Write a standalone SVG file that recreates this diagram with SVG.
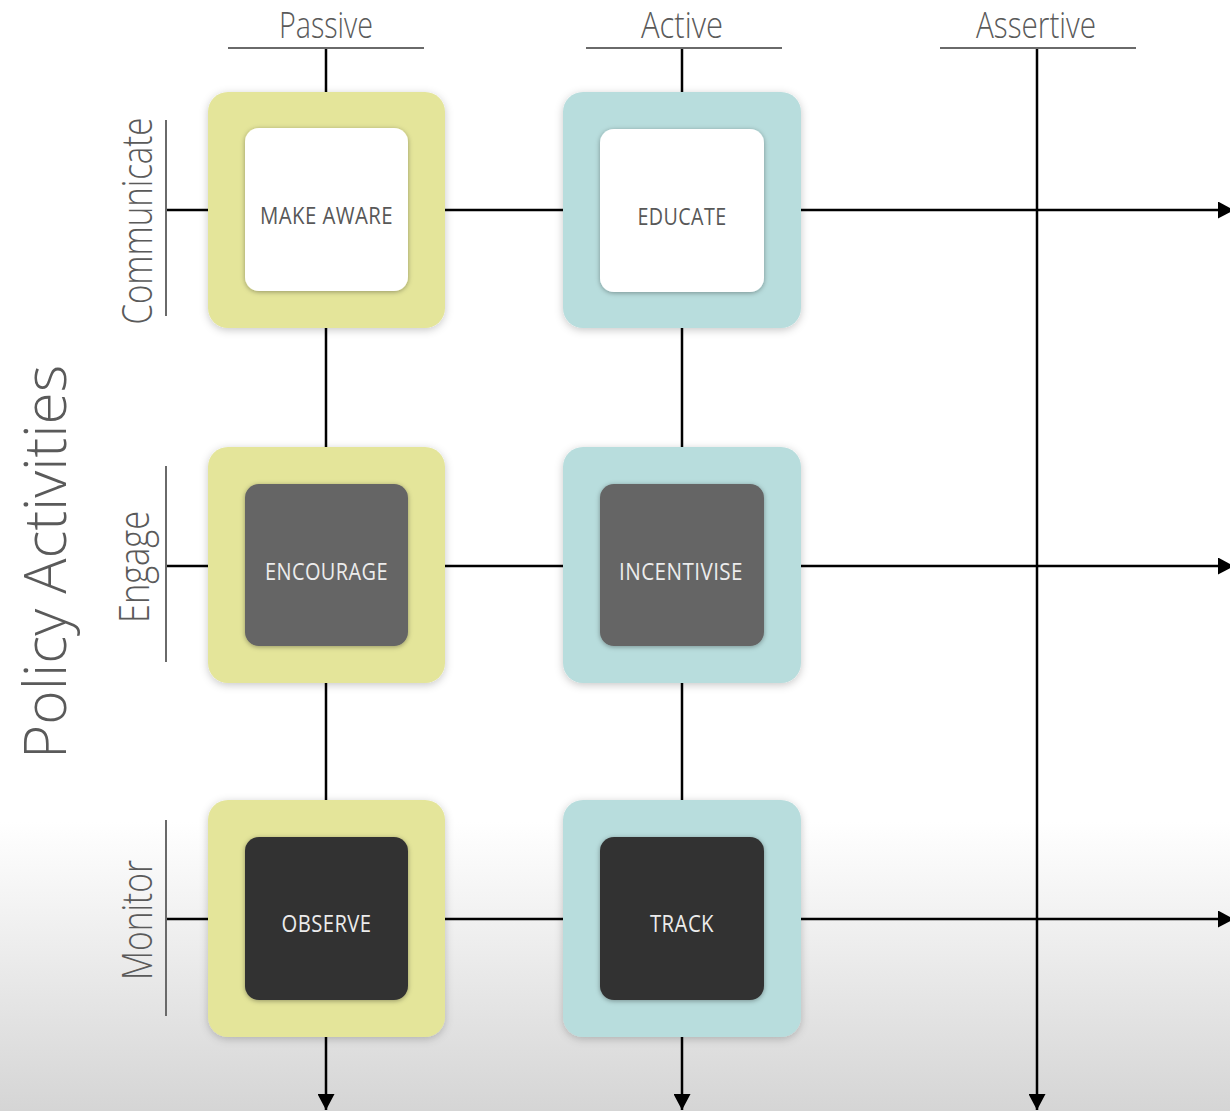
<svg xmlns="http://www.w3.org/2000/svg" width="1230" height="1111" viewBox="0 0 1230 1111">
  <defs>
    <linearGradient id="bg" x1="0" y1="0" x2="0" y2="1">
      <stop offset="0" stop-color="#ffffff"/>
      <stop offset="0.74" stop-color="#ffffff"/>
      <stop offset="1" stop-color="#d5d5d5"/>
    </linearGradient>
    <filter id="outerShadow" x="-20%" y="-20%" width="140%" height="140%">
      <feDropShadow dx="0" dy="2" stdDeviation="4" flood-color="#000" flood-opacity="0.22"/>
    </filter>
    <filter id="innerShadow" x="-20%" y="-20%" width="140%" height="140%">
      <feDropShadow dx="0" dy="1" stdDeviation="2.5" flood-color="#000" flood-opacity="0.35"/>
    </filter>
    <marker id="arrow" viewBox="0 0 16 17" refX="16" refY="8.5" markerWidth="16" markerHeight="17" orient="auto" markerUnits="userSpaceOnUse">
      <path d="M0,0 L16,8.5 L0,17 z" fill="#000"/>
    </marker>
  </defs>
  <style>
    .axis { stroke: #000; stroke-width: 2.5; fill: none; }
    .rule { stroke: #6a6a6a; stroke-width: 2; fill: none; }
    .head { font-family: "Open Sans", "Liberation Sans", sans-serif; font-weight: 300; font-size: 36px; fill: #5a5a5a; text-anchor: middle; }
    .rowlab { font-family: "Open Sans", "Liberation Sans", sans-serif; font-weight: 300; font-size: 42px; fill: #5a5a5a; text-anchor: middle; }
    .title { font-family: "Open Sans", "Liberation Sans", sans-serif; font-weight: 300; font-size: 58px; fill: #5a5a5a; text-anchor: middle; }
    .outer-y { fill: #e4e59a; filter: url(#outerShadow); }
    .outer-t { fill: #b8dddd; filter: url(#outerShadow); }
    .inner { filter: url(#innerShadow); }
    .lab { font-family: "Open Sans", "Liberation Sans", sans-serif; font-size: 24px; text-anchor: middle; letter-spacing: 0.5px; }
    .lab-dark { fill: #585858; }
    .lab-light { fill: #ececec; }
  </style>

  <rect x="0" y="0" width="1230" height="1111" fill="url(#bg)"/>

  <!-- column headers -->
  <g id="header-passive">
    <text class="head" x="326" y="38" textLength="94" lengthAdjust="spacingAndGlyphs">Passive</text>
    <line class="rule" x1="228" y1="48" x2="424" y2="48"/>
  </g>
  <g id="header-active">
    <text class="head" x="682" y="38" textLength="82" lengthAdjust="spacingAndGlyphs">Active</text>
    <line class="rule" x1="586" y1="48" x2="782" y2="48"/>
  </g>
  <g id="header-assertive">
    <text class="head" x="1036" y="38" textLength="120" lengthAdjust="spacingAndGlyphs">Assertive</text>
    <line class="rule" x1="940" y1="48" x2="1136" y2="48"/>
  </g>

  <!-- axis title -->
  <g id="title">
    <text class="title" transform="translate(66,562) rotate(-90)" textLength="394" lengthAdjust="spacingAndGlyphs">Policy Activities</text>
  </g>

  <!-- row headers -->
  <g id="row-communicate">
    <text class="rowlab" transform="translate(152,221) rotate(-90)" textLength="207" lengthAdjust="spacingAndGlyphs">Communicate</text>
    <line class="rule" x1="166" y1="120" x2="166" y2="316"/>
  </g>
  <g id="row-engage">
    <text class="rowlab" transform="translate(149,567) rotate(-90)" textLength="112" lengthAdjust="spacingAndGlyphs">Engage</text>
    <line class="rule" x1="166" y1="466" x2="166" y2="662"/>
  </g>
  <g id="row-monitor">
    <text class="rowlab" transform="translate(152,920) rotate(-90)" textLength="120" lengthAdjust="spacingAndGlyphs">Monitor</text>
    <line class="rule" x1="166" y1="820" x2="166" y2="1016"/>
  </g>

  <!-- grid connectors -->
  <g id="connectors">
    <line class="axis" x1="326" y1="49" x2="326" y2="1110" marker-end="url(#arrow)"/>
    <line class="axis" x1="682" y1="49" x2="682" y2="1110" marker-end="url(#arrow)"/>
    <line class="axis" x1="1037" y1="49" x2="1037" y2="1110" marker-end="url(#arrow)"/>
    <line class="axis" x1="167" y1="210" x2="1234" y2="210" marker-end="url(#arrow)"/>
    <line class="axis" x1="167" y1="566" x2="1234" y2="566" marker-end="url(#arrow)"/>
    <line class="axis" x1="167" y1="919" x2="1234" y2="919" marker-end="url(#arrow)"/>
  </g>

  <!-- activity cells -->
  <g id="make-aware">
    <rect class="outer-y" x="208" y="92" width="237" height="236" rx="20"/>
    <rect class="inner" x="245" y="128" width="163" height="163" rx="14" fill="#ffffff"/>
    <text class="lab lab-dark" x="326.5" y="224" textLength="133" lengthAdjust="spacingAndGlyphs">MAKE AWARE</text>
  </g>
  <g id="educate">
    <rect class="outer-t" x="563" y="92" width="238" height="236" rx="20"/>
    <rect class="inner" x="600" y="129" width="164" height="163" rx="14" fill="#ffffff"/>
    <text class="lab lab-dark" x="682" y="225" textLength="89" lengthAdjust="spacingAndGlyphs">EDUCATE</text>
  </g>
  <g id="encourage">
    <rect class="outer-y" x="208" y="447" width="237" height="236" rx="20"/>
    <rect class="inner" x="245" y="484" width="163" height="162" rx="14" fill="#656565"/>
    <text class="lab lab-light" x="326.5" y="580" textLength="123" lengthAdjust="spacingAndGlyphs">ENCOURAGE</text>
  </g>
  <g id="incentivise">
    <rect class="outer-t" x="563" y="447" width="238" height="236" rx="20"/>
    <rect class="inner" x="600" y="484" width="164" height="162" rx="14" fill="#656565"/>
    <text class="lab lab-light" x="681" y="580" textLength="124" lengthAdjust="spacingAndGlyphs">INCENTIVISE</text>
  </g>
  <g id="observe">
    <rect class="outer-y" x="208" y="800" width="237" height="237" rx="20"/>
    <rect class="inner" x="245" y="837" width="163" height="163" rx="14" fill="#333333"/>
    <text class="lab lab-light" x="326.5" y="932" textLength="90" lengthAdjust="spacingAndGlyphs">OBSERVE</text>
  </g>
  <g id="track">
    <rect class="outer-t" x="563" y="800" width="238" height="237" rx="20"/>
    <rect class="inner" x="600" y="837" width="164" height="163" rx="14" fill="#333333"/>
    <text class="lab lab-light" x="682" y="932" textLength="64" lengthAdjust="spacingAndGlyphs">TRACK</text>
  </g>
</svg>
